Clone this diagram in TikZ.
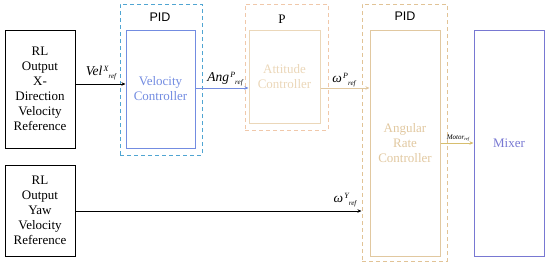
\documentclass[tikz,border=0pt]{standalone}
\usepackage{fontspec}
\setmainfont{Liberation Serif}
\newfontfamily\pidfont{Liberation Sans}
\usetikzlibrary{arrows.meta}
\definecolor{pidblue}{RGB}{80,165,210}
\definecolor{velblue}{RGB}{115,140,225}
\definecolor{porange}{RGB}{240,200,170}
\definecolor{atttan}{RGB}{235,215,185}
\definecolor{ratetan}{RGB}{225,200,160}
\definecolor{pidtan}{RGB}{225,195,150}
\definecolor{mixblue}{RGB}{120,120,210}
\definecolor{motortan}{RGB}{215,190,110}
\newcommand{\sslbl}[3]{{\itshape #1}\raisebox{4.5pt}{\fontsize{8}{8}\selectfont\itshape\,#2}\raisebox{-3pt}{\fontsize{7}{7}\selectfont\itshape #3}}
\tikzset{
  blk/.style={draw, line width=1pt, rectangle, align=center, inner sep=0pt, font=\fontsize{13}{15}\selectfont},
  dbox/.style={draw, dashed, dash pattern=on 4pt off 3pt, line width=1pt, rectangle, inner sep=0pt},
  arr/.style={-{Stealth[length=4pt,width=3.5pt]}, line width=0.9pt},
  lbl/.style={font=\fontsize{13.5}{13.5}\selectfont, inner sep=0pt},
  pidlbl/.style={font=\pidfont\fontsize{12.5}{12.5}\selectfont, inner sep=0pt}
}
\begin{document}
\begin{tikzpicture}[x=1pt,y=-1pt]
\useasboundingbox (0,0) rectangle (550,266);
% boxes
\node[blk, minimum width=70pt, minimum height=118pt] (rl1) at (40,89) {RL\\Output\\X-\\Direction\\Velocity\\Reference};
\node[blk, minimum width=70pt, minimum height=91pt] (rl2) at (40,210.5) {RL\\Output\\Yaw\\Velocity\\Reference};
\node[dbox, draw=pidblue, minimum width=82pt, minimum height=151pt] (pid1) at (161,79.5) {};
\node[blk, draw=velblue, text=velblue, minimum width=69pt, minimum height=118pt] (vel) at (160.5,89) {Velocity\\Controller};
\node[dbox, draw=porange, minimum width=83pt, minimum height=126pt] (pbox) at (286.5,67) {};
\node[blk, draw=atttan, text=atttan, minimum width=71pt, minimum height=93pt] (att) at (284.5,76.5) {Attitude\\Controller};
\node[dbox, draw=pidtan, minimum width=85pt, minimum height=257pt] (pid2) at (404.5,132.5) {};
\node[blk, draw=ratetan, text=ratetan, minimum width=70pt, minimum height=226pt] (rate) at (405,143) {Angular\\Rate\\Controller};
\node[blk, draw=mixblue, text=mixblue, minimum width=70pt, minimum height=226pt] (mix) at (509,143) {Mixer};
% group labels
\node[pidlbl] (pidl1) at (160,17) {PID};
\node[font=\fontsize{13}{13}\selectfont, inner sep=0pt] (pl) at (282,19) {P};
\node[pidlbl] (pidl2) at (405,16) {PID};
% connectors
\draw[arr] (rl1.east |- 0,84) -- (vel.west |- 0,84);
\draw[arr, velblue] (vel.east |- 0,88) -- (att.west |- 0,88);
\draw[arr, ratetan] (att.east |- 0,88) -- (rate.west |- 0,88);
\draw[arr, motortan] (rate.east |- 0,143) -- (mix.west |- 0,143);
\draw[arr] (rl2.east |- 0,211) -- (pid2.west |- 0,211);
% connector labels
\node[lbl] (lvel) at (101,73) {\sslbl{Vel}{X}{ref}};
\node[lbl] (lang) at (225,79) {\sslbl{Ang}{P}{ref}};
\node[lbl] (lwp) at (344,80) {\sslbl{ω}{P}{ref}};
\node[lbl] (lwy) at (345,200) {\sslbl{ω}{Y}{ref}};
\node[font=\fontsize{7}{7}\selectfont, inner sep=0pt] (lmot) at (458,138) {{\itshape Motor}\raisebox{-1.5pt}{\fontsize{4.5}{4.5}\selectfont\itshape ref}};
\end{tikzpicture}
\end{document}
